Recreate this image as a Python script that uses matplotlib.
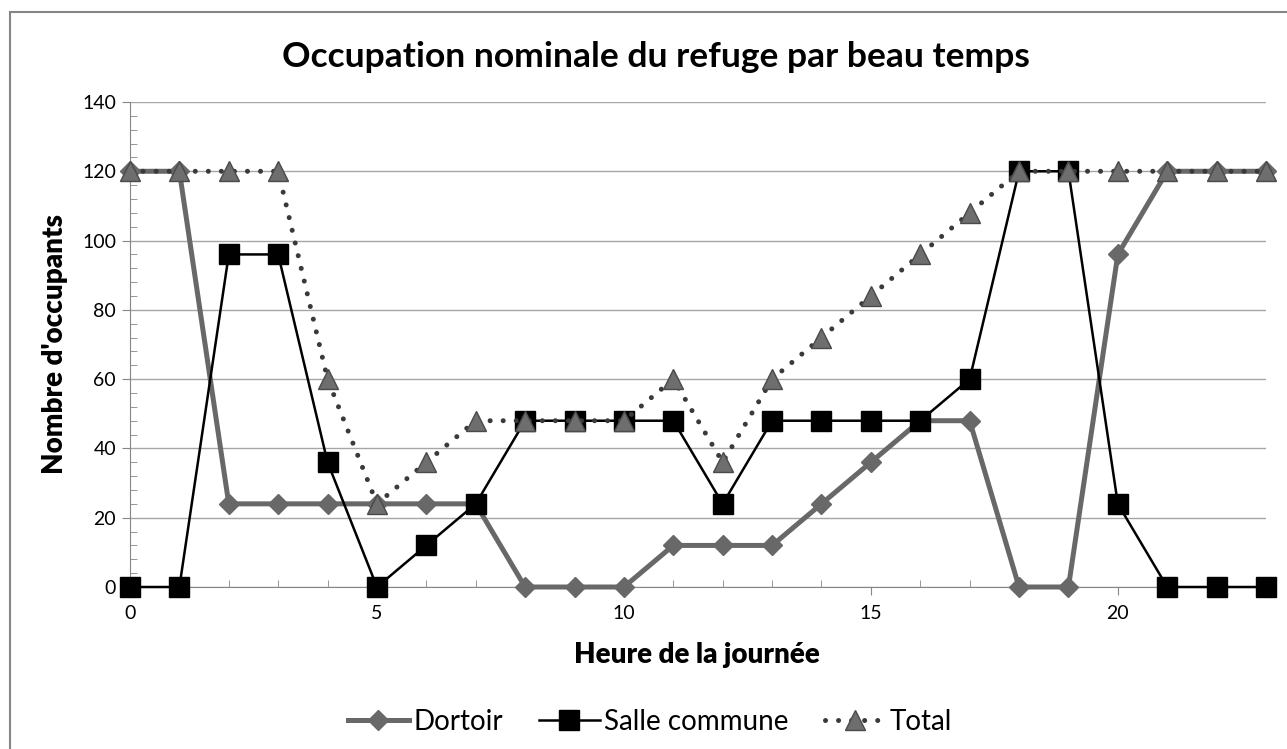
import numpy as np
import matplotlib.pyplot as plt
from matplotlib.ticker import MultipleLocator
from matplotlib.patches import Rectangle

plt.rcParams['font.family'] = ['Lato', 'DejaVu Sans']

# données
heures = np.arange(24)
dortoir = [120, 120, 24, 24, 24, 24, 24, 24, 0, 0, 0, 12,
           12, 12, 24, 36, 48, 48, 0, 0, 96, 120, 120, 120]
salle_commune = [0, 0, 96, 96, 36, 0, 12, 24, 48, 48, 48, 48,
                 24, 48, 48, 48, 48, 60, 120, 120, 24, 0, 0, 0]
total = [120, 120, 120, 120, 60, 24, 36, 48, 48, 48, 48, 60,
         36, 60, 72, 84, 96, 108, 120, 120, 120, 120, 120, 120]

fig = plt.figure(figsize=(12.87, 7.49), dpi=100)
ax = fig.add_axes([130/1287, 1 - 587/749, (1266 - 130)/1287, (587 - 102)/749])

# cadre gris autour du graphique
fig.patches.append(Rectangle((10/1287, -0.05), 1.1, 1 - 12/749 + 0.05,
                             transform=fig.transFigure, fill=False,
                             edgecolor='#868686', linewidth=1.5))

ax.plot(heures, dortoir, color='#686868', linewidth=3.6,
        marker='D', markersize=10, label='Dortoir', clip_on=False, zorder=3)
ax.plot(heures, salle_commune, color='black', linewidth=1.8,
        marker='s', markersize=14, label='Salle commune', clip_on=False, zorder=4)
ax.plot(heures, total, color='#3a3a3a', linewidth=3.6, linestyle=(0, (0.01, 2.6)),
        dash_capstyle='round', marker='^', markersize=14,
        markerfacecolor='#6e6e6e', markeredgecolor='#4a4a4a', markeredgewidth=1,
        label='Total', clip_on=False, zorder=5)

ax.set_xlim(0, 23)
ax.set_ylim(0, 140)
ax.xaxis.set_major_locator(MultipleLocator(5))
ax.xaxis.set_minor_locator(MultipleLocator(1))
ax.yaxis.set_major_locator(MultipleLocator(20))
ax.yaxis.set_minor_locator(MultipleLocator(4))
ax.tick_params(which='major', direction='out', length=6, color='#868686',
               labelsize=14)
ax.tick_params(axis='x', which='major', pad=7)
ax.tick_params(axis='y', which='major', pad=4)
ax.tick_params(which='minor', direction='in', length=5, color='#868686')
ax.grid(axis='y', which='major', color='#a6a6a6', linewidth=1)
ax.set_axisbelow(True)
for s in ['top', 'right']:
    ax.spines[s].set_visible(False)
for s in ['left', 'bottom']:
    ax.spines[s].set_color('#868686')

ax.set_xlabel('Heure de la journée', fontsize=20, fontweight='heavy', va='center')
ax.set_ylabel("Nombre d'occupants", fontsize=20, fontweight='heavy', va='center')
ax.xaxis.set_label_coords((697 - 130)/1136, -(655 - 587)/485)
ax.yaxis.set_label_coords(-(130 - 55)/1136, (587 - 344)/485)

fig.suptitle('Occupation nominale du refuge par beau temps', x=656/1287, y=1 - 57/749,
             va='center', fontsize=25.5, fontweight='bold')

fig.legend(loc='center', bbox_to_anchor=(650/1287, 1 - 722/749), ncol=3,
           frameon=False, fontsize=20, handlelength=2.2, columnspacing=1.3,
           handletextpad=0.15)

fig.savefig('out.png', dpi=100)
